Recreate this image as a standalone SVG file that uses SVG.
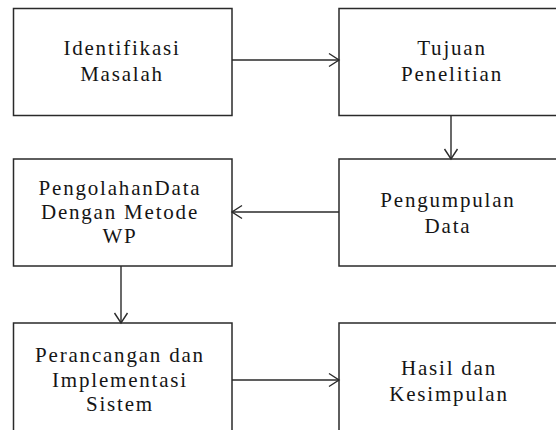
<svg xmlns="http://www.w3.org/2000/svg" width="556" height="430" viewBox="0 0 556 430">
<style>
.box{fill:#fff;stroke:#2a2a2a;stroke-width:1.5}
.lbl{font-family:"Liberation Serif","Times New Roman","DejaVu Serif",serif;font-size:21px;fill:#151515;text-anchor:middle;letter-spacing:1.8px}
.con{stroke:#2a2a2a;stroke-width:1.4;fill:none}
.head{stroke:#2a2a2a;stroke-width:1.4;fill:none}
</style>
<defs>
<marker id="arr" markerWidth="14" markerHeight="16" refX="11" refY="8" orient="auto" markerUnits="userSpaceOnUse">
<path d="M1,1.5 L11,8 L1,14.5" class="head"/>
</marker>
</defs>
<rect width="556" height="430" fill="#fff"/>
<g id="n1"><rect class="box" x="13.5" y="8.5" width="218.5" height="107"/>
<text class="lbl" x="122" y="55">Identifikasi</text><text class="lbl" x="122" y="81">Masalah</text></g>
<g id="n2"><rect class="box" x="339" y="8.5" width="230" height="107"/>
<text class="lbl" x="452" y="55">Tujuan</text><text class="lbl" x="452" y="81">Penelitian</text></g>
<g id="n3"><rect class="box" x="339" y="159" width="230" height="107"/>
<text class="lbl" x="448" y="207">Pengumpulan</text><text class="lbl" x="448" y="233">Data</text></g>
<g id="n4"><rect class="box" x="13.5" y="159" width="218.5" height="107"/>
<text class="lbl" x="120" y="195">PengolahanData</text><text class="lbl" x="120" y="219">Dengan Metode</text><text class="lbl" x="120" y="243">WP</text></g>
<g id="n5"><rect class="box" x="13.5" y="323" width="218.5" height="120"/>
<text class="lbl" x="120" y="362">Perancangan dan</text><text class="lbl" x="120" y="387">Implementasi</text><text class="lbl" x="120" y="411">Sistem</text></g>
<g id="n6"><rect class="box" x="339" y="323" width="230" height="120"/>
<text class="lbl" x="449" y="375">Hasil dan</text><text class="lbl" x="449" y="401">Kesimpulan</text></g>
<g id="connectors">
<line class="con" x1="232" y1="60" x2="339" y2="60" marker-end="url(#arr)"/>
<line class="con" x1="451" y1="115.5" x2="451" y2="159" marker-end="url(#arr)"/>
<line class="con" x1="339" y1="212" x2="232" y2="212" marker-end="url(#arr)"/>
<line class="con" x1="121" y1="266" x2="121" y2="323" marker-end="url(#arr)"/>
<line class="con" x1="232" y1="380" x2="339" y2="380" marker-end="url(#arr)"/>
</g>
</svg>
